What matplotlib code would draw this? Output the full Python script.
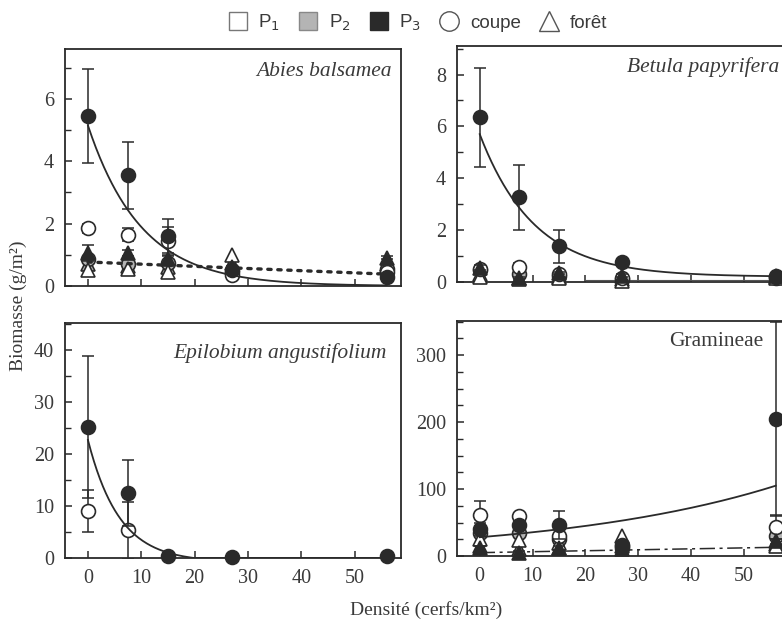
import numpy as np
import matplotlib
matplotlib.use("Agg")
import matplotlib.pyplot as plt
from matplotlib.lines import Line2D
from matplotlib.ticker import MultipleLocator

# ---------------- data ----------------
density = [0, 7.5, 15, 27, 56]
nan = np.nan

# Abies balsamea
abies_coupe_p1 = [1.85, 1.65, 1.45, 0.35, 0.45]
abies_coupe_p2 = [0.85, 0.7, 0.75, 0.45, 0.55]
abies_coupe_p3 = [5.45, 3.55, 1.6, 0.5, 0.3]
abies_coupe_p1_err = [0.15, 0.2, 0.45, 0.05, 0.05]
abies_coupe_p3_err = [1.5, 1.07, 0.55, 0.1, 0.05]
abies_foret_p1 = [0.5, 0.55, 0.45, 1.0, 0.65]
abies_foret_p2 = [0.7, 0.65, 0.6, 0.75, 0.7]
abies_foret_p3 = [1.05, 1.05, 0.85, 0.6, 0.9]
abies_foret_p3_err = [0.25, 0.1, 0.1, 0.05, 0.05]

# Betula papyrifera
betula_coupe_p1 = [0.5, 0.58, 0.3, 0.15, 0.2]
betula_coupe_p2 = [0.45, 0.3, 0.25, 0.1, 0.15]
betula_coupe_p3 = [6.35, 3.27, 1.37, 0.77, 0.25]
betula_coupe_p1_err = [0.1, 0.15, 0.05, 0.05, 0.0]
betula_coupe_p3_err = [1.9, 1.25, 0.65, 0.0, 0.0]
betula_foret_p1 = [0.2, 0.1, 0.15, 0.05, 0.15]
betula_foret_p2 = [0.3, 0.15, 0.2, 0.1, 0.2]
betula_foret_p3 = [0.55, 0.15, 0.35, 0.25, 0.25]
betula_foret_p3_err = [0.1, 0.05, 0.05, 0.05, 0.0]

# Epilobium angustifolium
epi_coupe_p1 = [9.0, 5.3, nan, nan, nan]
epi_coupe_p2 = [nan, nan, nan, nan, nan]
epi_coupe_p3 = [25.2, 12.5, 0.3, 0.2, 0.3]
epi_coupe_p1_err = [4.0, 5.4, 0, 0, 0]
epi_coupe_p3_err = [13.6, 6.4, 0, 0, 0]
epi_foret_p1 = [nan, nan, nan, nan, nan]
epi_foret_p2 = [nan, nan, nan, nan, nan]
epi_foret_p3 = [nan, nan, nan, nan, nan]
epi_foret_p3_err = [0, 0, 0, 0, 0]

# Gramineae
gram_coupe_p1 = [61, 60, 30, 15, 43]
gram_coupe_p2 = [35, 35, 25, 12, 30]
gram_coupe_p3 = [40, 46, 46, 16, 205]
gram_coupe_p1_err = [21, 3, 5, 0, 18]
gram_coupe_p3_err = [10, 5, 21, 3, 145]
gram_foret_p1 = [25, 24, 20, 30, 15]
gram_foret_p2 = [15, 10, 12, 15, 18]
gram_foret_p3 = [12, 5, 12, 10, 22]
gram_foret_p3_err = [3, 2, 3, 3, 4]

# fitted curves (parameters): y = a*exp(b*x) + c
abies_fit = (5.15, -0.10, 0.0)
abies_lin = (0.77, 0.38)          # dotted line end values at x=0 and x=56
betula_fit = (5.5, -0.097, 0.2)
betula_lin = (0.08, 0.08)
epi_fit = (23.5, -0.17, -0.8)
gram_fit = (28.0, 0.0236, 0.0)
gram_lin = (5.0, 13.0)

species = ["Abies balsamea", "Betula papyrifera", "Epilobium angustifolium", "Gramineae"]
legend_labels = ["P$_1$", "P$_2$", "P$_3$", "coupe", "forêt"]

# ---------------- style ----------------
INK = "#2a2a2a"
TXT = "#3a3a3a"
GREY = "#b4b4b4"
plt.rcParams["font.family"] = ["Liberation Serif", "DejaVu Serif"]
plt.rcParams["axes.edgecolor"] = INK
plt.rcParams["axes.linewidth"] = 1.3

W, H = 782, 621
fig = plt.figure(figsize=(W / 100, H / 100), dpi=100)

def ax_at(l, r, t, b):
    return fig.add_axes([l / W, 1 - b / H, (r - l) / W, (b - t) / H])

ax_tl = ax_at(65, 401, 49, 286)
ax_tr = ax_at(457, 790, 46, 282)
ax_bl = ax_at(65, 401, 323, 558)
ax_br = ax_at(457, 790, 321, 556)

# species label anchors (right end, vertical centre) in figure pixels
label_pos = [(392, 72), (779, 67), (387, 353), (763, 342)]

panels = [
    (ax_tl, (0, 7.6), 2, 1,
     [abies_foret_p1, abies_foret_p2, abies_foret_p3, abies_coupe_p1, abies_coupe_p2, abies_coupe_p3],
     [None, None, abies_foret_p3_err, abies_coupe_p1_err, None, abies_coupe_p3_err],
     abies_fit, abies_lin, ":", "italic"),
    (ax_tr, (0, 9.1), 2, 1,
     [betula_foret_p1, betula_foret_p2, betula_foret_p3, betula_coupe_p1, betula_coupe_p2, betula_coupe_p3],
     [None, None, betula_foret_p3_err, betula_coupe_p1_err, None, betula_coupe_p3_err],
     betula_fit, betula_lin, "-", "italic"),
    (ax_bl, (0, 45.2), 10, 5,
     [epi_foret_p1, epi_foret_p2, epi_foret_p3, epi_coupe_p1, epi_coupe_p2, epi_coupe_p3],
     [None, None, epi_foret_p3_err, epi_coupe_p1_err, None, epi_coupe_p3_err],
     epi_fit, None, None, "italic"),
    (ax_br, (0, 351), 100, 25,
     [gram_foret_p1, gram_foret_p2, gram_foret_p3, gram_coupe_p1, gram_coupe_p2, gram_coupe_p3],
     [None, None, gram_foret_p3_err, gram_coupe_p1_err, None, gram_coupe_p3_err],
     gram_fit, gram_lin, "-.", "normal"),
]

fills = ["white", GREY, INK, "white", GREY, INK]
shapes = ["^", "^", "^", "o", "o", "o"]
# drawing order: grey first (underneath), then white, then black
order = [1, 4, 0, 3, 2, 5]
xs = np.array(density, dtype=float)
xc = np.linspace(0, 56, 300)

for i, (ax, ylim, major, minor, series, errs, fit, lin, lst, fstyle) in enumerate(panels):
    for k in order:
        v = np.array(series[k], dtype=float)
        err = errs[k]
        fc, mk = fills[k], shapes[k]
        z = 3 + order.index(k) * 0.1
        if err is not None:
            ax.errorbar(xs, v, yerr=err, fmt="none", ecolor=INK, elinewidth=1.1,
                        capsize=4, capthick=1.1, zorder=z)
        ax.plot(xs, v, linestyle="none", marker=mk, markersize=10 if mk == "o" else 10.5,
                markerfacecolor=fc, markeredgecolor=INK, markeredgewidth=1.2, zorder=z + 0.05,
                clip_on=False)
    a, b, c = fit
    yc = np.clip(a * np.exp(b * xc) + c, 0, None)
    ax.plot(xc, yc, color=INK, lw=1.3, zorder=5)
    if lin is not None:
        y0, y1 = lin
        if lst == ":":
            ax.plot([0, 56], [y0, y1], color=INK, lw=2.4, linestyle=(0, (1, 2.0)),
                    dash_capstyle="round", zorder=5)
        elif lst == "-.":
            ax.plot([0, 56], [y0, y1], color=INK, lw=1.1, linestyle=(0, (10, 3, 2, 3)), zorder=5)
        else:
            ax.plot([20, 56], [y0, y1], color="#555555", lw=0.8, zorder=2)
    ax.set_xlim(-4.3, 58.7)
    ax.set_ylim(*ylim)
    ax.xaxis.set_major_locator(MultipleLocator(10))
    ax.yaxis.set_major_locator(MultipleLocator(major))
    ax.yaxis.set_minor_locator(MultipleLocator(minor))
    ax.tick_params(axis="both", which="both", direction="in", colors=INK,
                   labelcolor=TXT, labelsize=14.5, top=False, right=False)
    ax.tick_params(axis="both", which="major", length=5, width=1.1)
    ax.tick_params(axis="y", which="minor", length=4, width=1.0)
    ax.tick_params(axis="y", pad=8)
    ax.tick_params(axis="x", pad=8)
    if i < 2:
        ax.tick_params(axis="x", labelbottom=False)
    px, py = label_pos[i]
    fig.text(px / W, 1 - py / H, species[i], ha="right", va="center",
             fontsize=15.5, style=fstyle, color=TXT)

fig.text(0.545, 0.018, "Densité (cerfs/km²)", ha="center", va="center",
         fontsize=14, color=TXT)
fig.text(0.023, 0.507, "Biomasse (g/m²)", ha="center", va="center",
         rotation=90, fontsize=14, color=TXT)

# legend
handles = [
    Line2D([], [], linestyle="none", marker="s", markersize=13, markerfacecolor="white",
           markeredgecolor="#777777", markeredgewidth=1.0),
    Line2D([], [], linestyle="none", marker="s", markersize=13, markerfacecolor=GREY,
           markeredgecolor="#888888", markeredgewidth=1.0),
    Line2D([], [], linestyle="none", marker="s", markersize=13, markerfacecolor=INK,
           markeredgecolor=INK, markeredgewidth=1.0),
    Line2D([], [], linestyle="none", marker="o", markersize=14, markerfacecolor="white",
           markeredgecolor="#555555", markeredgewidth=1.0),
    Line2D([], [], linestyle="none", marker="^", markersize=15, markerfacecolor="white",
           markeredgecolor="#555555", markeredgewidth=1.0),
]
fig.legend(handles, legend_labels, loc="center", bbox_to_anchor=(0.534, 0.963),
           ncol=5, frameon=False, handlelength=1.0, handletextpad=0.6,
           columnspacing=1.0, prop={"family": ["Liberation Sans", "DejaVu Sans"], "size": 13.5},
           labelcolor=TXT)

fig.savefig("out.png", dpi=100)
